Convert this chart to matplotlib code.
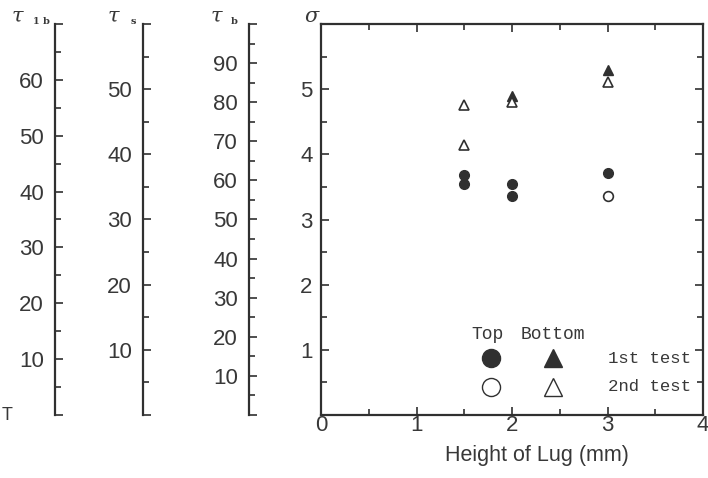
import matplotlib.pyplot as plt
from matplotlib.ticker import MultipleLocator

# values
top_1st_x = [1.5, 1.5, 2, 2, 3]
top_1st_y = [3.68, 3.54, 3.55, 3.36, 3.72]
top_2nd_x = [3]
top_2nd_y = [3.36]
bot_1st_x = [2, 3]
bot_1st_y = [4.90, 5.29]
bot_2nd_x = [1.5, 1.5, 2, 3]
bot_2nd_y = [4.75, 4.14, 4.80, 5.11]

x_ticks = [0, 1, 2, 3, 4]
sigma_ticks = [0, 1, 2, 3, 4, 5, 6]
sigma_labels = ['', '1', '2', '3', '4', '5', '']

tau1b_ticks = [0, 10, 20, 30, 40, 50, 60, 70]
taus_ticks = [0, 10, 20, 30, 40, 50, 60]
taub_ticks = [0, 10, 20, 30, 40, 50, 60, 70, 80, 90, 100]

W, H = 708, 478
dark = '#303030'
txt = '#383838'
sans = 'Liberation Sans'
mono = 'Liberation Mono'


def fx(px):
    return px / W


def fy(py):
    return 1 - py / H


y_top, y_bot = 24, 415
bottom = fy(y_bot)
height = (y_bot - y_top) / H

fig = plt.figure(figsize=(W / 100, H / 100), dpi=100)

# ---------------- main sigma axes ----------------
ax = fig.add_axes([fx(321), bottom, fx(703) - fx(321), height])
ax.plot(top_1st_x, top_1st_y, 'o', ms=7, color=dark, mec=dark, ls='none')
ax.plot(top_2nd_x, top_2nd_y, 'o', ms=7, mfc='white', mec=dark, mew=1.2, ls='none')
ax.plot(bot_1st_x, bot_1st_y, '^', ms=7, color=dark, mec=dark, ls='none')
ax.plot(bot_2nd_x, bot_2nd_y, '^', ms=7, mfc='white', mec=dark, mew=1.2, ls='none')

ax.set_xlim(0, 4)
ax.set_ylim(0, 6)
ax.set_xticks(x_ticks)
ax.set_yticks(sigma_ticks)
ax.set_yticklabels(sigma_labels)
ax.xaxis.set_minor_locator(MultipleLocator(0.5))
ax.yaxis.set_minor_locator(MultipleLocator(0.5))
ax.tick_params(which='both', direction='in', top=True, right=True,
               color=dark, width=1.2, labelcolor=txt, labelsize=16)
ax.tick_params(which='major', length=6)
ax.tick_params(which='minor', length=4)
ax.tick_params(axis='x', pad=0)
ax.tick_params(axis='y', pad=6)
for lab in ax.get_xticklabels() + ax.get_yticklabels():
    lab.set_fontfamily(sans)
for sp in ax.spines.values():
    sp.set_color(dark)
    sp.set_linewidth(1.6)

fig.text(fx(537), fy(455), 'Height of Lug (mm)', fontsize=15.5, family=sans,
         color=txt, ha='center', va='center')

# hand made key
ax.text(1.74, 1.24, 'Top', family=mono, fontsize=13, color=txt, ha='center', va='center')
ax.text(2.43, 1.24, 'Bottom', family=mono, fontsize=13, color=txt, ha='center', va='center')
ax.plot([1.78], [0.87], 'o', ms=13, color=dark, mec=dark)
ax.plot([2.43], [0.87], '^', ms=13, color=dark, mec=dark)
ax.plot([1.78], [0.43], 'o', ms=13, mfc='white', mec=dark, mew=1.0)
ax.plot([2.43], [0.43], '^', ms=13, mfc='white', mec=dark, mew=1.0)
ax.text(3.0, 0.87, '1st test', family=mono, fontsize=12.5, color=txt, va='center')
ax.text(3.0, 0.43, '2nd test', family=mono, fontsize=12.5, color=txt, va='center')

# ---------------- left stress scales ----------------
scales = [(55, tau1b_ticks), (143, taus_ticks), (249, taub_ticks)]
for spine_px, ticks in scales:
    a = fig.add_axes([fx(spine_px), bottom, 0.0005, height])
    a.set_ylim(ticks[0], ticks[-1])
    a.set_yticks(ticks)
    a.set_yticklabels(['' if t in (ticks[0], ticks[-1]) else str(t) for t in ticks])
    a.yaxis.set_minor_locator(MultipleLocator(5))
    a.set_xticks([])
    for side in ('top', 'right', 'bottom'):
        a.spines[side].set_visible(False)
    a.spines['left'].set_color(dark)
    a.spines['left'].set_linewidth(1.6)
    a.tick_params(which='both', direction='in', color=dark, width=1.2,
                  labelcolor=txt, labelsize=16, pad=8)
    a.tick_params(which='major', length=6)
    a.tick_params(which='minor', length=4)
    for lab in a.get_yticklabels():
        lab.set_fontfamily(sans)

# axis symbols
serif = 'DejaVu Serif'
fig.text(fx(12), fy(16), 'τ', family=serif, style='italic', fontsize=15, color=txt, va='center')
fig.text(fx(33), fy(21), '1 b', family=serif, fontsize=7, weight='bold', color=txt, va='center')
fig.text(fx(108), fy(16), 'τ', family=serif, style='italic', fontsize=15, color=txt, va='center')
fig.text(fx(131), fy(22), 's', family=serif, fontsize=7, weight='bold', color=txt, va='center')
fig.text(fx(211), fy(16), 'τ', family=serif, style='italic', fontsize=15, color=txt, va='center')
fig.text(fx(231), fy(22), 'b', family=serif, fontsize=7, weight='bold', color=txt, va='center')
fig.text(fx(304), fy(17), 'σ', family=serif, style='italic', fontsize=15, color=txt, va='center')
fig.text(fx(2), fy(416), 'T', family=sans, fontsize=13, color=txt, va='center')

fig.savefig('out.png', dpi=100)
